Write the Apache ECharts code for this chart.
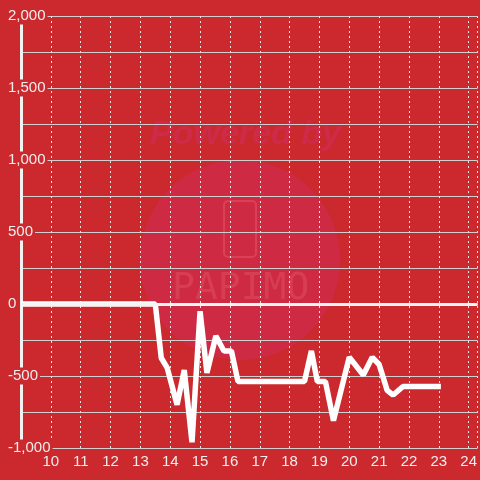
<!DOCTYPE html>
<html>
<head>
<meta charset="utf-8">
<script src="https://cdn.jsdelivr.net/npm/echarts@6/dist/echarts.min.js"></script>
<style>
  html, body { margin: 0; padding: 0; background: #cc292e; }
  #main { width: 480px; height: 480px; }
</style>
</head>
<body>
<div id="main"></div>
<script>
// hour of day (x) and value (y)
const hours = [9, 13.5, 13.7, 13.9, 14.23, 14.47, 14.73, 15.0, 15.23, 15.53, 15.8, 16.05, 16.27,
  18.5, 18.73, 18.93, 19.2, 19.47, 20.0, 20.47, 20.77, 21.0, 21.27, 21.47, 21.8, 23.07]
const values = [0, 0, -375, -444, -700, -458, -960, -50, -479, -222, -326, -326, -538,
  -538, -326, -538, -538, -810, -370, -493, -370, -420, -600, -632, -573, -573]

const bg = '#cc292e'
const labelColor = '#eeeeee'

const chart = echarts.init(document.getElementById('main'))

const option = {
  backgroundColor: bg,
  animation: false,
  grid: { left: 21, right: 0, top: 16, bottom: 32 },
  graphic: [
    { type: 'circle', z: -10, silent: true,
      shape: { cx: 240, cy: 260, r: 100 },
      style: { fill: 'rgba(210,45,110,0.35)' } },
    { type: 'text', z: -10, silent: true, left: 150, top: 118,
      style: { text: 'Powered by', fill: 'rgba(205,45,100,0.5)',
        font: 'italic bold 34px "Liberation Sans", sans-serif' } },
    { type: 'rect', z: -10, silent: true,
      shape: { x: 224, y: 201, width: 32, height: 56, r: 4 },
      style: { fill: 'none', stroke: 'rgba(240,110,120,0.35)', lineWidth: 2 } },
    { type: 'text', z: -10, silent: true, left: 172, top: 270,
      style: { text: 'PAPIMO', fill: 'rgba(240,110,120,0.3)',
        font: '38px "DejaVu Sans Mono", monospace' } }
  ],
  xAxis: {
    type: 'value',
    min: 9,
    max: 24.3,
    interval: 1,
    axisLine: { show: false },
    axisTick: { show: false },
    axisLabel: {
      showMinLabel: false,
      showMaxLabel: false,
      color: labelColor,
      fontSize: 15,
      margin: 6,
      fontFamily: '"Liberation Sans", sans-serif'
    },
    splitLine: { show: true, lineStyle: { color: '#e6e6e6', type: [2, 3], width: 1 } }
  },
  yAxis: {
    type: 'value',
    min: -1000,
    max: 2000,
    interval: 500,
    axisLine: { show: true, lineStyle: { color: '#f2f2f2', width: 3 } },
    axisTick: { show: false },
    axisLabel: {
      color: labelColor,
      fontSize: 15,
      align: 'left',
      margin: 13,
      fontFamily: '"Liberation Sans", sans-serif',
      backgroundColor: bg,
      padding: [1, 2, 1, 0]
    },
    splitLine: { show: true, lineStyle: { color: '#cfcfcf', width: 1 } },
    minorTick: { show: false, splitNumber: 2 },
    minorSplitLine: { show: true, lineStyle: { color: '#cfcfcf', width: 1 } }
  },
  series: [{
    type: 'line',
    data: hours.map((h, i) => [h, values[i]]),
    showSymbol: false,
    lineStyle: { color: '#ffffff', width: 5.5 },
    markLine: {
      silent: true,
      symbol: 'none',
      label: { show: false },
      lineStyle: { color: '#f4f4f4', width: 3, type: 'solid' },
      data: [{ yAxis: 0 }]
    }
  }]
}

chart.setOption(option)
</script>
</body>
</html>
